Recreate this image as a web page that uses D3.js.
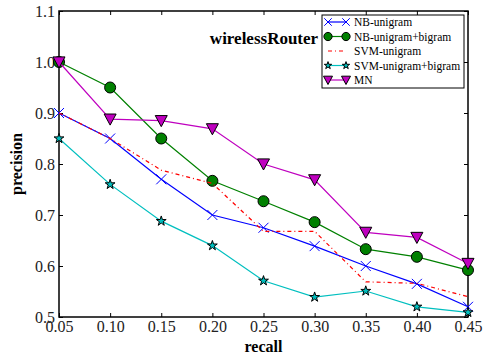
<!DOCTYPE html>
<html>
<head>
<meta charset="utf-8">
<script src="https://cdn.jsdelivr.net/npm/d3@7"></script>
<style>
body { margin: 0; background: #fff; }
text { font-family: "Liberation Serif", "DejaVu Serif", serif; }
</style>
</head>
<body>
<script>
// data
var recall = [0.05, 0.10, 0.15, 0.20, 0.25, 0.30, 0.35, 0.40, 0.45];
var nbUni = [0.90, 0.85, 0.77, 0.70, 0.675, 0.639, 0.600, 0.565, 0.520];
var nbUniBi = [1.00, 0.95, 0.85, 0.767, 0.727, 0.686, 0.633, 0.618, 0.592];
var svmUni = [0.90, 0.85, 0.788, 0.762, 0.668, 0.668, 0.569, 0.566, 0.540];
var svmUniBi = [0.85, 0.76, 0.688, 0.640, 0.571, 0.539, 0.551, 0.520, 0.509];
var mn = [1.00, 0.888, 0.885, 0.869, 0.800, 0.769, 0.666, 0.656, 0.605];
var xTicks = [0.05, 0.10, 0.15, 0.20, 0.25, 0.30, 0.35, 0.40, 0.45];
var yTicks = [0.5, 0.6, 0.7, 0.8, 0.9, 1.0, 1.1];

var series = [
  {name: "NB-unigram", values: nbUni, color: "#0000ff", marker: "x", dash: null},
  {name: "NB-unigram+bigram", values: nbUniBi, color: "#008000", marker: "o", dash: null},
  {name: "SVM-unigram", values: svmUni, color: "#ff0000", marker: null, dash: "4,3,1,3"},
  {name: "SVM-unigram+bigram", values: svmUniBi, color: "#00bfbf", marker: "star", dash: null},
  {name: "MN", values: mn, color: "#bf00bf", marker: "v", dash: null}
];

var width = 485, height = 356;
var mLeft = 59, mRight = 468, mTop = 11, mBottom = 317;

var svg = d3.select("body").append("svg")
  .attr("width", width).attr("height", height);

var x = d3.scaleLinear().domain([0.05, 0.45]).range([mLeft, mRight]);
var y = d3.scaleLinear().domain([0.5, 1.1]).range([mBottom, mTop]);

// axes with inward ticks on all four sides
var fmtX = d3.format(".2f"), fmtY = d3.format(".1f");
svg.append("g").attr("class", "ax").attr("transform", "translate(0," + mBottom + ")")
  .call(d3.axisBottom(x).tickValues(xTicks).tickFormat(fmtX).tickSizeInner(-4).tickSizeOuter(0).tickPadding(4));
svg.append("g").attr("class", "ax").attr("transform", "translate(0," + mTop + ")")
  .call(d3.axisTop(x).tickValues(xTicks).tickFormat("").tickSizeInner(-4).tickSizeOuter(0));
svg.append("g").attr("class", "ax").attr("transform", "translate(" + mLeft + ",0)")
  .call(d3.axisLeft(y).tickValues(yTicks).tickFormat(fmtY).tickSizeInner(-4).tickSizeOuter(0).tickPadding(4));
svg.append("g").attr("class", "ax").attr("transform", "translate(" + mRight + ",0)")
  .call(d3.axisRight(y).tickValues(yTicks).tickFormat("").tickSizeInner(-4).tickSizeOuter(0));

svg.selectAll(".ax text").style("font-size", "16px").style("fill", "#222")
  .style("font-family", "'Liberation Serif', serif");
svg.selectAll(".ax path").remove();
svg.selectAll(".ax line").attr("stroke", "#000");

svg.append("rect")
  .attr("x", mLeft).attr("y", mTop)
  .attr("width", mRight - mLeft).attr("height", mBottom - mTop)
  .attr("fill", "none").attr("stroke", "#000").attr("stroke-width", 1.5);

var line = d3.line()
  .x(function(d, i) { return x(recall[i]); })
  .y(function(d) { return y(d); });

function drawMarker(g, type, color, cx, cy, k) {
  k = k || 1;
  if (type == "x") {
    var a = 5 * k;
    g.append("path")
      .attr("d", "M" + (cx-a) + "," + (cy-a) + "L" + (cx+a) + "," + (cy+a) + "M" + (cx-a) + "," + (cy+a) + "L" + (cx+a) + "," + (cy-a))
      .attr("stroke", color).attr("stroke-width", 1);
  } else if (type == "o") {
    g.append("circle").attr("cx", cx).attr("cy", cy).attr("r", 5.5 * k)
      .attr("fill", color).attr("stroke", "#000").attr("stroke-width", 1);
  } else if (type == "star") {
    g.append("path")
      .attr("d", d3.symbol().type(d3.symbolStar).size(30 * k * k)())
      .attr("transform", "translate(" + cx + "," + cy + ")")
      .attr("fill", color).attr("stroke", "#000").attr("stroke-width", 1);
  } else if (type == "v") {
    var b = 6 * k;
    g.append("path")
      .attr("d", "M" + (cx-b) + "," + (cy-b*0.85) + "L" + (cx+b) + "," + (cy-b*0.85) + "L" + cx + "," + (cy+b) + "Z")
      .attr("fill", color).attr("stroke", "#000").attr("stroke-width", 1);
  }
}

var plot = svg.append("g");
series.forEach(function(s) {
  plot.append("path")
    .datum(s.values)
    .attr("d", line)
    .attr("fill", "none")
    .attr("stroke", s.color)
    .attr("stroke-width", 1.2)
    .attr("stroke-dasharray", s.dash);
  if (s.marker) {
    s.values.forEach(function(v, i) {
      drawMarker(plot, s.marker, s.color, x(recall[i]), y(v));
    });
  }
});

// title
svg.append("text")
  .attr("x", 264).attr("y", 44)
  .attr("text-anchor", "middle")
  .style("font-weight", "bold").style("font-size", "17px")
  .text("wirelessRouter");

// axis labels
svg.append("text")
  .attr("x", (mLeft + mRight) / 2).attr("y", 352)
  .attr("text-anchor", "middle")
  .style("font-weight", "bold").style("font-size", "16px")
  .text("recall");
svg.append("text")
  .attr("transform", "translate(22," + ((mTop + mBottom) / 2) + ") rotate(-90)")
  .attr("text-anchor", "middle")
  .style("font-weight", "bold").style("font-size", "16px")
  .text("precision");

// legend
var lg = svg.append("g");
lg.append("rect")
  .attr("x", 322).attr("y", 15).attr("width", 142).attr("height", 73)
  .attr("fill", "#fff").attr("stroke", "#000").attr("stroke-width", 1);
series.forEach(function(s, i) {
  var ly = 22 + i * 14.5;
  lg.append("line")
    .attr("x1", 328).attr("x2", 346).attr("y1", ly).attr("y2", ly)
    .attr("stroke", s.color).attr("stroke-width", 1.2)
    .attr("stroke-dasharray", s.dash);
  if (s.marker) {
    drawMarker(lg, s.marker, s.color, 328, ly, 0.75);
    drawMarker(lg, s.marker, s.color, 346, ly, 0.75);
  }
  lg.append("text")
    .attr("x", 354).attr("y", ly + 4)
    .style("font-size", "11.5px")
    .text(s.name);
});
</script>
</body>
</html>
